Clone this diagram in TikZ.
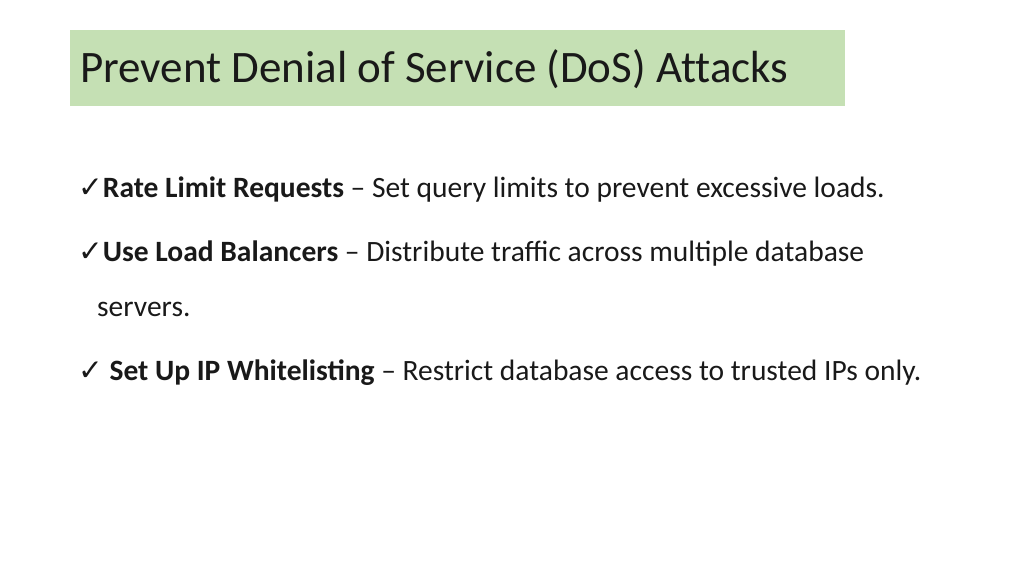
\documentclass[tikz,border=0pt]{standalone}
\usepackage{fontspec}
\setmainfont{Carlito}
\newfontfamily\symfont{DejaVu Sans}
\newfontfamily\titlefont[Ligatures=NoCommon]{Carlito}
\usetikzlibrary{positioning}
\definecolor{titlegreen}{HTML}{C5E0B4}
\newcommand{\tick}{{\symfont\char"2713}}
\begin{document}
\begin{tikzpicture}[x=1pt, y=-1pt]
    \tikzstyle{every node} = [inner sep=0pt, anchor=base west]
    \tikzstyle{titel} = [font=\titlefont\fontsize{45}{50}\selectfont, text=black!90]
    \tikzstyle{punct} = [font=\fontsize{29.5}{34}\selectfont, text=black!90]

    \useasboundingbox (0,0) rectangle (1024,576);
    \fill[titlegreen] (70,30) rectangle (845,106);

    \node[titel] (titlu) at (80,82) {Prevent Denial of Service (DoS) Attacks};

    \node[punct] (p1) at (78,197) {\tick\textbf{Rate Limit Requests} -- Set query limits to prevent excessive loads.};
    \node[punct] (p2) at (78,261) {\tick\textbf{Use Load Balancers} -- Distribute traffic across multiple database};
    \node[punct] (p2b) at (97,316) {servers.};
    \node[punct] (p3) at (78,380) {\tick\ \textbf{Set Up IP Whitelisting} -- Restrict database access to trusted IPs only.};
\end{tikzpicture}
\end{document}
